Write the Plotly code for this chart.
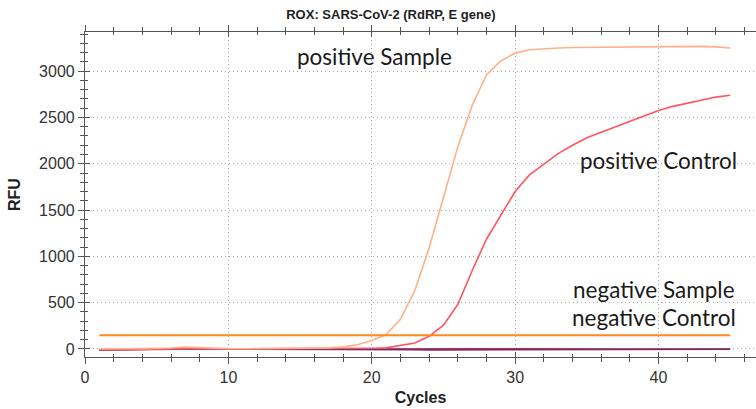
import plotly.graph_objects as go

cycles = list(range(1, 46))

positive_sample = [0, -2, 2, 3, 5, 10, 20, 12, 5, 3, 2, 3, 4, 5, 6, 8, 12, 22, 45, 90,
                   155, 320, 630, 1090, 1650, 2180, 2630, 2960, 3110, 3195, 3232, 3245,
                   3250, 3255, 3257, 3258, 3258, 3260, 3262, 3265, 3268, 3270, 3268,
                   3262, 3250]

positive_control = [-8, -6, -2, 0, 1, 2, 3, 2, 1, 1, 1, 2, 2, 2, 3, 3, 4, 5, 6, 8,
                    12, 35, 65, 137, 256, 480, 845, 1185, 1445, 1700, 1880, 2000,
                    2110, 2200, 2280, 2340, 2400, 2460, 2520, 2575, 2620, 2655, 2690,
                    2720, 2740]

negative_sample = [-12, -9, -4, -1, 0, 1, 2, 1, 0, 0, 1, 1, 0, 0, 1, 1, 0, 0, 1, 1,
                   0, 0, 1, 1, 0, 0, 1, 1, 0, 0, 1, 1, 0, 0, 1, 1, 0, 0, 1, 1,
                   0, 0, 1, 1, 0]

negative_control = [-10, -8, -4, -2, -1, 0, 0, 0, -1, -1, -1, -1, -2, -2, -2, -3, -3,
                    -4, -4, -5, -6, -8, -9, -10, -10, -10, -10, -10, -9, -9, -9, -8,
                    -8, -8, -7, -7, -6, -6, -6, -5, -5, -5, -4, -4, -4]

threshold = [148] * 45

series = [
    ("negative Sample", negative_sample, "#C2264E", 1.6),
    ("negative Control", negative_control, "#6E2E70", 1.6),
    ("positive Control", positive_control, "#FF5561", 1.6),
    ("positive Sample", positive_sample, "#FFB089", 1.6),
    ("threshold", threshold, "#FF8A1C", 2),
]

labels = [
    ("positive Sample", 20.2, 3160),
    ("positive Control", 40.0, 2040),
    ("negative Sample", 39.7, 645),
    ("negative Control", 39.7, 335),
]

X_RANGE = [0, 46.8]
Y_RANGE = [-87, 3423]

fig = go.Figure()
for name, vals, color, w in series:
    fig.add_trace(go.Scatter(x=cycles, y=vals, mode="lines", name=name,
                             line=dict(color=color, width=w), showlegend=False,
                             hoverinfo="skip"))

for text, x, y in labels:
    fig.add_annotation(x=x, y=y, text=text, showarrow=False, xanchor="center",
                       yanchor="middle", font=dict(family="Lato", size=22.5, color="#1a1a1a"))

axis_common = dict(
    showline=True, linecolor="#555555", linewidth=1.2, automargin=False,
    ticks="outside", tickcolor="#555555", ticklen=6, tickwidth=1.2,
    showgrid=True, gridcolor="#a8a8a8", griddash="1px,3px", gridwidth=1,
    zeroline=False,
    tickfont=dict(family="Liberation Sans, Arial", size=16, color="#333333"),
)

fig.update_xaxes(
    **axis_common, range=X_RANGE, dtick=10, tick0=0, mirror="allticks",
    minor=dict(dtick=2, ticks="outside", ticklen=4, tickcolor="#555555", showgrid=False),
    title=dict(text="<b>Cycles</b>", font=dict(family="Liberation Sans, Arial", size=16, color="#222222"), standoff=6),
)
fig.update_yaxes(
    **axis_common, range=Y_RANGE, dtick=500, tick0=0,
    minor=dict(dtick=100, ticks="outside", ticklen=4, tickcolor="#555555", showgrid=False),
    title=dict(text="<b>RFU</b>", font=dict(family="Liberation Sans, Arial", size=16, color="#222222"), standoff=14),
)

# overlay axes giving the inner half of the crossing tick marks
inner = dict(showline=False, showgrid=False, zeroline=False, showticklabels=False,
             automargin=False, ticks="inside", tickcolor="#555555", ticklen=5, tickwidth=1.2)
fig.update_layout(
    xaxis2=dict(**inner, overlaying="x", anchor="y", side="bottom", range=X_RANGE,
                dtick=10, tick0=0, mirror="allticks",
                minor=dict(dtick=2, ticks="inside", ticklen=3, tickcolor="#555555")),
    yaxis2=dict(**inner, overlaying="y", anchor="x", side="left", range=Y_RANGE,
                dtick=500, tick0=0,
                minor=dict(dtick=100, ticks="inside", ticklen=3, tickcolor="#555555")),
)
fig.add_trace(go.Scatter(x=[None], y=[None], xaxis="x2", yaxis="y2", showlegend=False,
                         hoverinfo="skip"))

fig.update_layout(
    width=756, height=409,
    margin=dict(l=85, r=0, t=32, b=52),
    paper_bgcolor="white", plot_bgcolor="white",
    hovermode=False,
    title=dict(text="<b>ROX: SARS-CoV-2 (RdRP, E gene)</b>", x=0.517, xanchor="center",
               y=0.965, yanchor="middle",
               font=dict(family="Liberation Sans, Arial", size=13, color="#222222")),
)

fig.write_html("out.html", config={"displayModeBar": False},
               post_script="document.body.style.margin='0';document.body.style.overflow='hidden';")
